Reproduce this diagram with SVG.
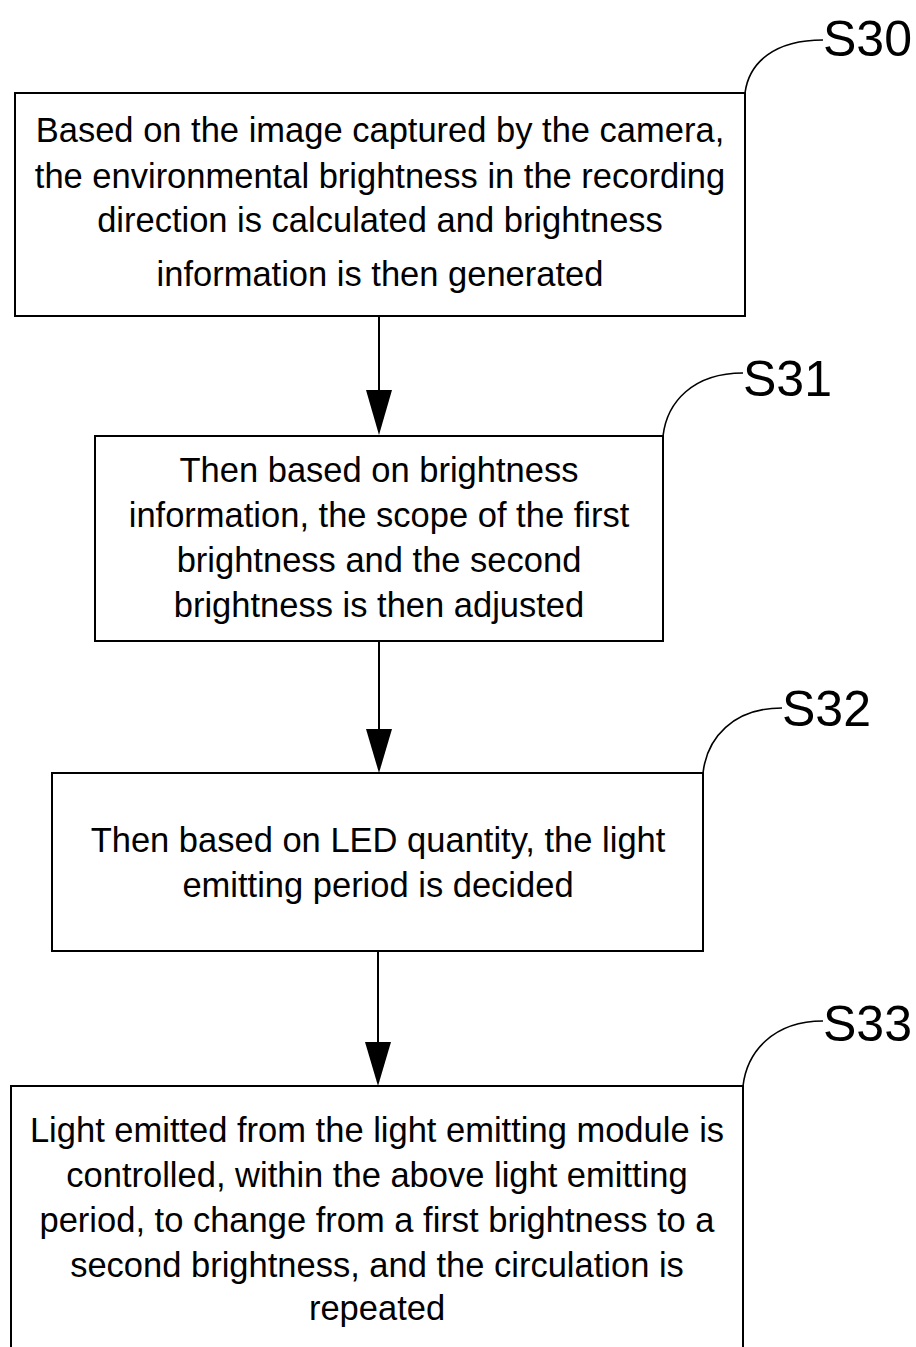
<svg xmlns="http://www.w3.org/2000/svg" width="916" height="1347" viewBox="0 0 916 1347">
<style>
.box{fill:#fff;stroke:#000;stroke-width:2}
.t{font-family:"Liberation Sans",Arial,sans-serif;font-size:34.5px;fill:#000;text-anchor:middle}
.lbl{font-family:"Liberation Sans",Arial,sans-serif;font-size:50px;fill:#000}
.lead{fill:none;stroke:#000;stroke-width:1.6}
.conn{stroke:#000;stroke-width:2;fill:none}
.head{fill:#000}
</style>
<g id="connectors">
<line class="conn" x1="379" y1="316" x2="379" y2="390"/>
<path class="head" d="M366,390 L392,390 L379,435 Z"/>
<line class="conn" x1="379" y1="641" x2="379" y2="729"/>
<path class="head" d="M366,729 L392,729 L379,773 Z"/>
<line class="conn" x1="378" y1="951" x2="378" y2="1042"/>
<path class="head" d="M365,1042 L391,1042 L378,1086 Z"/>
</g>
<g id="S30">
<rect class="box" x="15" y="93" width="730" height="223"/>
<path class="lead" d="M745,93 C749,62 775,40 823,40"/>
<text class="lbl" x="823" y="56">S30</text>
<text class="t" x="380" y="142">Based on the image captured by the camera,</text>
<text class="t" x="380" y="188">the environmental brightness in the recording</text>
<text class="t" x="380" y="232">direction is calculated and brightness</text>
<text class="t" x="380" y="286">information is then generated</text>
</g>
<g id="S31">
<rect class="box" x="95" y="436" width="568" height="205"/>
<path class="lead" d="M663,436 C667,402 693,373 743,373"/>
<text class="lbl" x="743" y="396">S31</text>
<text class="t" x="379" y="482">Then based on brightness</text>
<text class="t" x="379" y="527">information, the scope of the first</text>
<text class="t" x="379" y="572">brightness and the second</text>
<text class="t" x="379" y="617">brightness is then adjusted</text>
</g>
<g id="S32">
<rect class="box" x="52" y="773" width="651" height="178"/>
<path class="lead" d="M703,773 C707,738 733,708 782,708"/>
<text class="lbl" x="782" y="726">S32</text>
<text class="t" x="378" y="852">Then based on LED quantity, the light</text>
<text class="t" x="378" y="897">emitting period is decided</text>
</g>
<g id="S33">
<rect class="box" x="11" y="1086" width="732" height="280"/>
<path class="lead" d="M743,1086 C747,1052 773,1021 823,1021"/>
<text class="lbl" x="823" y="1041">S33</text>
<text class="t" x="377" y="1142">Light emitted from the light emitting module is</text>
<text class="t" x="377" y="1187">controlled, within the above light emitting</text>
<text class="t" x="377" y="1232">period, to change from a first brightness to a</text>
<text class="t" x="377" y="1277">second brightness, and the circulation is</text>
<text class="t" x="377" y="1320">repeated</text>
</g>
</svg>
